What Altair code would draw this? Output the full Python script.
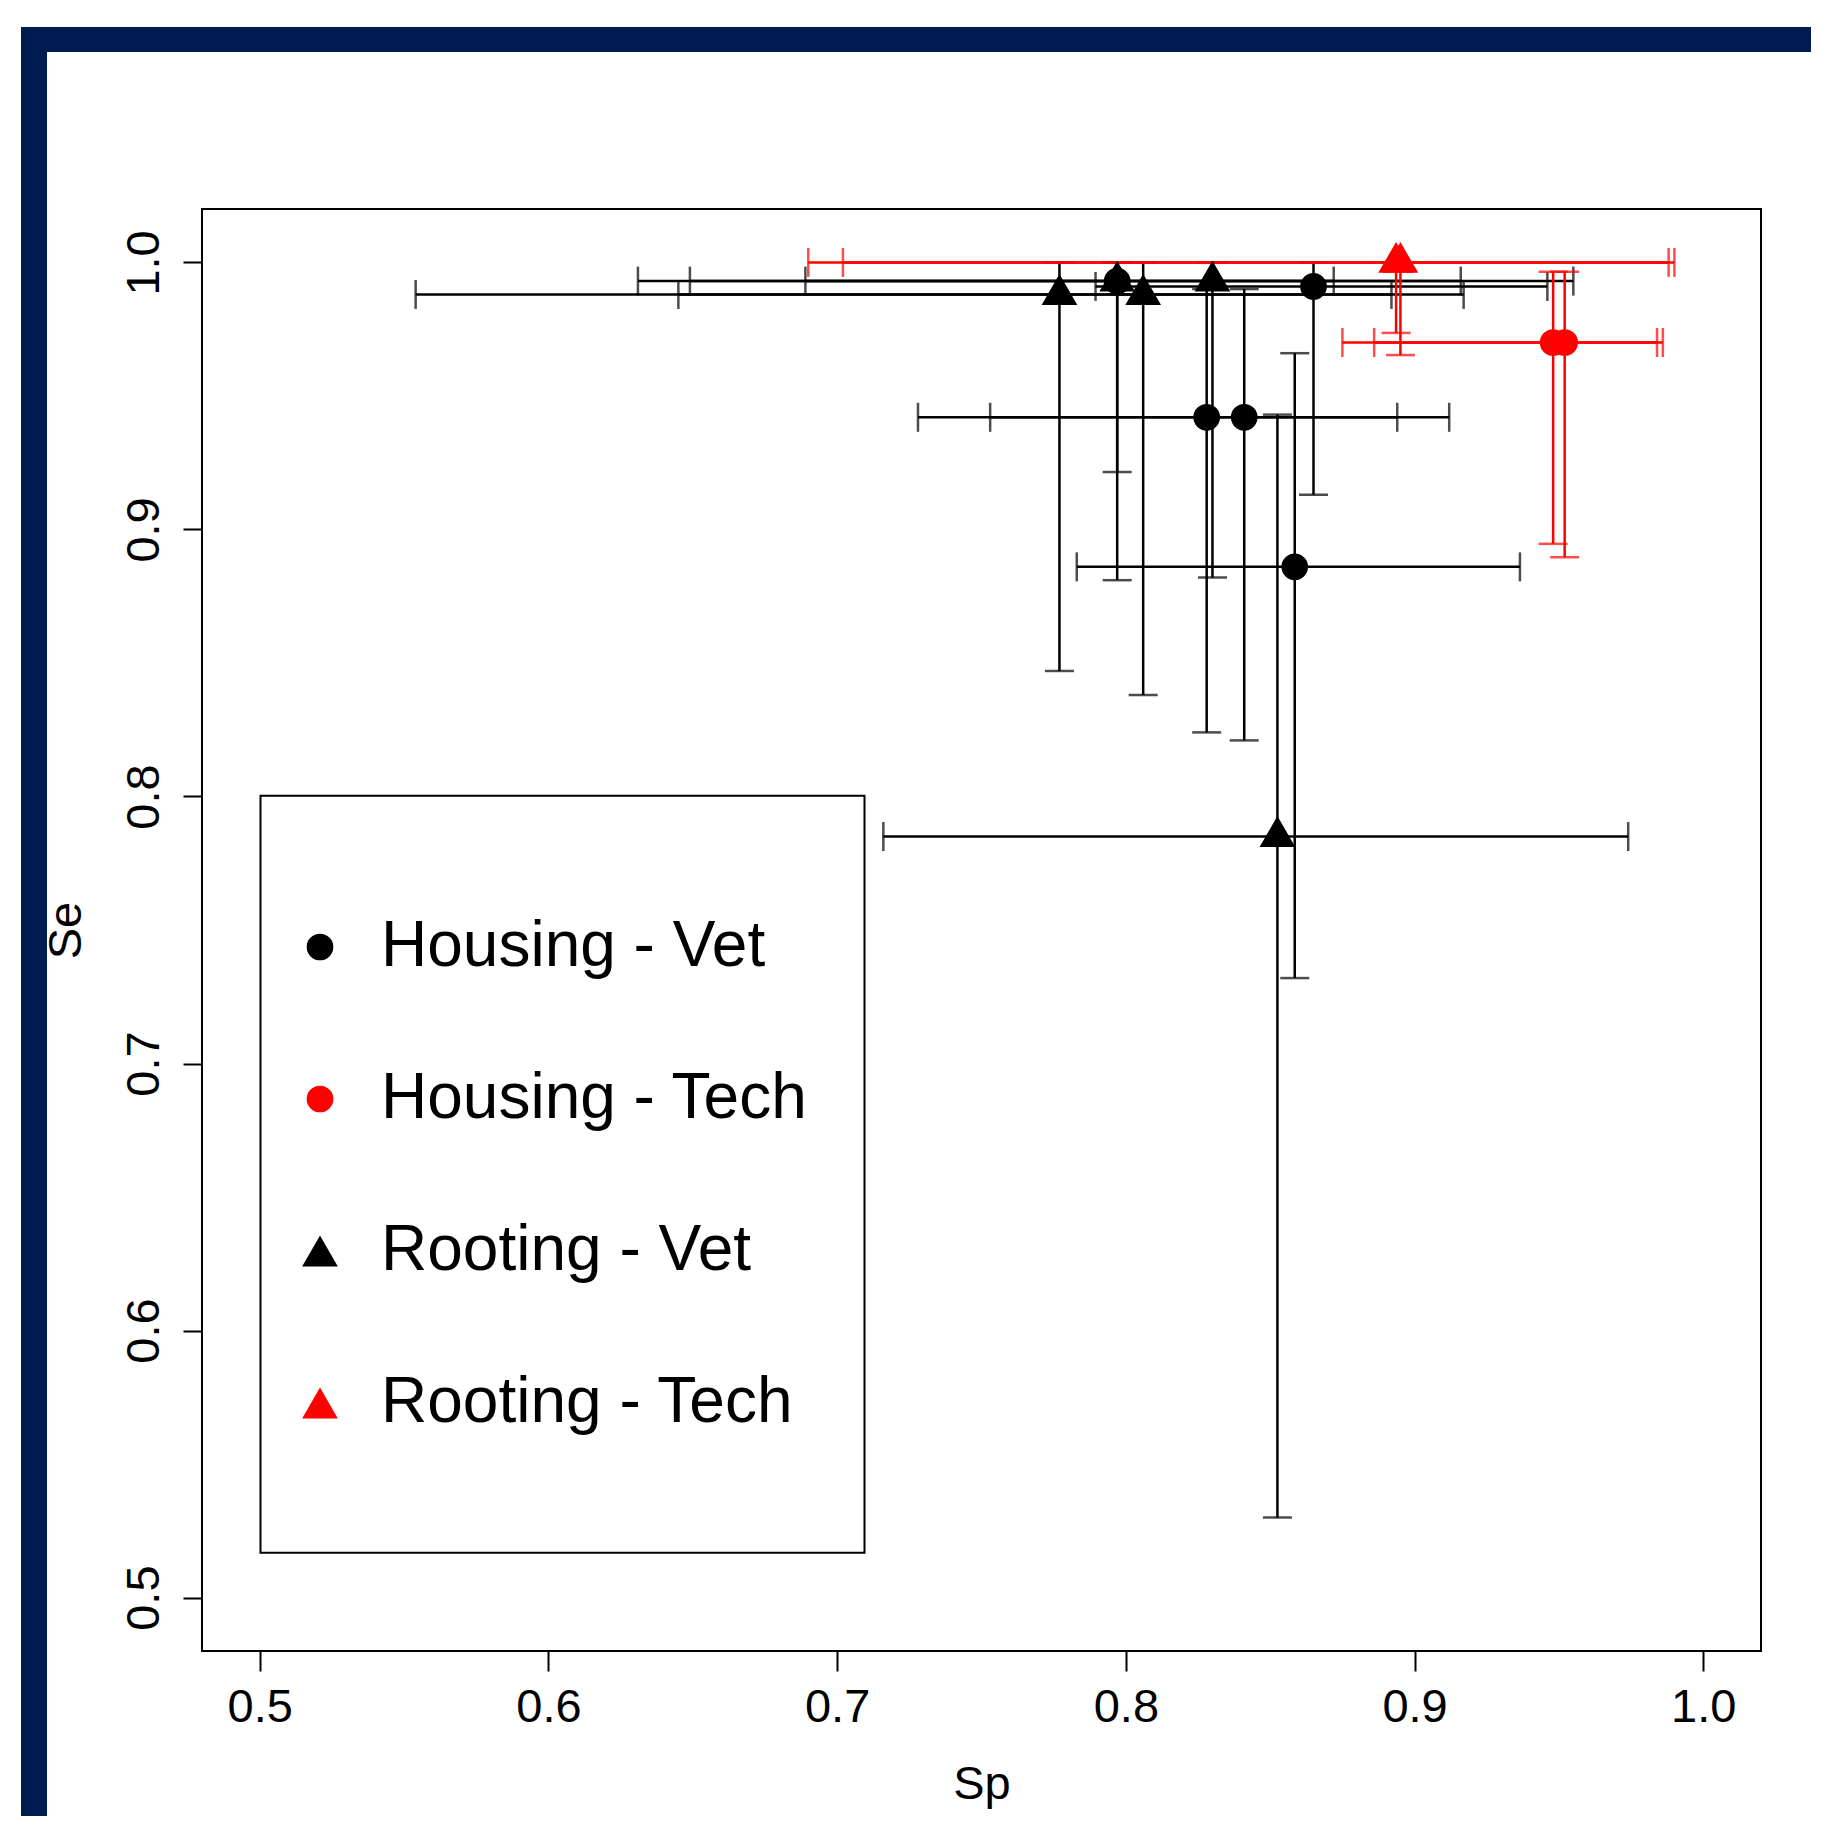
import altair as alt
import pandas as pd

# ---- data ----
groups = (["Housing - Vet"] * 5 + ["Rooting - Vet"] * 5 +
          ["Housing - Tech"] * 2 + ["Rooting - Tech"] * 2)
sp    = [0.797, 0.865, 0.828, 0.841, 0.8585, 0.777, 0.797, 0.806, 0.830, 0.8525, 0.948, 0.952, 0.8936, 0.8951]
sp_lo = [0.631, 0.7895, 0.728, 0.753, 0.783, 0.554, 0.649, 0.645, 0.689, 0.716, 0.875, 0.886, 0.690, 0.702]
sp_hi = [0.872, 0.946, 0.894, 0.912, 0.9365, 0.892, 0.916, 0.917, 0.955, 0.974, 0.984, 0.986, 0.988, 0.990]
se    = [0.993, 0.991, 0.942, 0.942, 0.886, 0.988, 0.993, 0.988, 0.993, 0.785, 0.970, 0.970, 1.0, 1.0]
se_lo = [0.881, 0.913, 0.824, 0.821, 0.732, 0.847, 0.9215, 0.838, 0.882, 0.530, 0.8946, 0.8896, 0.9736, 0.9653]
se_hi = [1.0, 1.0, 0.990, 0.990, 0.966, 1.0, 1.0, 1.0, 1.0, 0.943, 0.9965, 0.9965, 1.0, 1.0]

legend_order = ["Housing - Vet", "Housing - Tech", "Rooting - Vet", "Rooting - Tech"]
tick_values = [0.5, 0.6, 0.7, 0.8, 0.9, 1.0]

colour_of = {"Housing - Vet": "#000000", "Housing - Tech": "#FF0000",
             "Rooting - Vet": "#000000", "Rooting - Tech": "#FF0000"}

df = pd.DataFrame({"group": groups, "sp": sp, "sp_lo": sp_lo, "sp_hi": sp_hi,
                   "se": se, "se_lo": se_lo, "se_hi": se_hi})
df["col"] = df["group"].map(colour_of)
df["kind"] = ["c" if g.startswith("Housing") else "t" for g in df["group"]]

FONT = "Liberation Sans"
W, H = 1559, 1442
LW = 2.5
CAP = 29

xs = alt.Scale(domain=[0.48, 1.02], nice=False, zero=False)
ys = alt.Scale(domain=[0.48, 1.02], nice=False, zero=False)

x_axis = alt.Axis(values=tick_values, format=".1f", title="Sp", grid=False, domain=False,
                  tickSize=20, tickWidth=2, tickColor="black", labelPadding=13,
                  labelFont=FONT, labelFontSize=47, labelColor="black",
                  titleFont=FONT, titleFontSize=47, titleFontWeight="normal", titleColor="black",
                  titleY=147, titleBaseline="alphabetic")
y_axis = alt.Axis(values=tick_values, format=".1f", title="Se", grid=False, domain=False,
                  tickSize=19, tickWidth=2, tickColor="black", labelPadding=15,
                  labelAngle=270, labelAlign="center", labelBaseline="bottom",
                  labelFont=FONT, labelFontSize=47, labelColor="black",
                  titleFont=FONT, titleFontSize=47, titleFontWeight="normal", titleColor="black",
                  titleAngle=270, titleX=-122, titleY=H / 2, titleAlign="center",
                  titleBaseline="alphabetic")


def X(field):
    return alt.X(f"{field}:Q", scale=xs, axis=x_axis)


def Y(field):
    return alt.Y(f"{field}:Q", scale=ys, axis=y_axis)


colr = alt.Color("col:N", scale=None)


def bar_layers(sub):
    base = alt.Chart(sub)
    h = base.mark_rule(strokeWidth=LW).encode(x=X("sp_lo"), x2="sp_hi:Q", y=Y("se"), color=colr)
    v = base.mark_rule(strokeWidth=LW).encode(x=X("sp"), y=Y("se_lo"), y2="se_hi:Q", color=colr)
    c1 = base.mark_tick(orient="vertical", size=CAP, thickness=LW).encode(x=X("sp_lo"), y=Y("se"), color=colr)
    c2 = base.mark_tick(orient="vertical", size=CAP, thickness=LW).encode(x=X("sp_hi"), y=Y("se"), color=colr)
    c3 = base.mark_tick(orient="horizontal", size=CAP, thickness=LW).encode(x=X("sp"), y=Y("se_lo"), color=colr)
    c4 = base.mark_tick(orient="horizontal", size=CAP, thickness=LW).encode(x=X("sp"), y=Y("se_hi"), color=colr)
    return [h, v, c1, c2, c3, c4]


legend = alt.Legend(title=None, orient="none", legendX=86, legendY=706, padding=0,
                    rowPadding=88, labelOffset=29, labelFont=FONT, labelFontSize=64,
                    labelColor="black", labelLimit=2000, symbolStrokeWidth=0, symbolOpacity=1)

col_scale = alt.Scale(domain=legend_order, range=["#000000", "#FF0000", "#000000", "#FF0000"])
shp_scale = alt.Scale(domain=legend_order, range=["circle", "circle", "triangle-up", "triangle-up"])
siz_scale = alt.Scale(type="ordinal", domain=legend_order, range=[713, 713, 1274, 1274])


def point_layer(kind, yoff):
    return alt.Chart(df).transform_filter(f"datum.kind == '{kind}'").mark_point(
        filled=True, opacity=1, fillOpacity=1, strokeWidth=0, yOffset=yoff
    ).encode(
        x=X("sp"), y=Y("se"),
        color=alt.Color("group:N", scale=col_scale, legend=legend),
        shape=alt.Shape("group:N", scale=shp_scale, legend=legend),
        size=alt.Size("group:N", scale=siz_scale, legend=legend),
    )


one = alt.Data(values=[{}])
NAVY = "#001B50"
frame_top = alt.Chart(one).mark_rect(color=NAVY).encode(
    x=alt.value(-181), x2=alt.value(1700), y=alt.value(-182), y2=alt.value(-157))
frame_left = alt.Chart(one).mark_rect(color=NAVY).encode(
    x=alt.value(-181), x2=alt.value(-155), y=alt.value(-182), y2=alt.value(1700))
legend_box = alt.Chart(one).mark_rect(fill="white", stroke="black", strokeWidth=2).encode(
    x=alt.value(58.5), x2=alt.value(662.5), y=alt.value(586.7), y2=alt.value(1343.8))

black = df[df["col"] == "#000000"]
red = df[df["col"] == "#FF0000"]

layers = ([frame_top, frame_left, legend_box] + bar_layers(black) + bar_layers(red) +
          [point_layer("c", 0), point_layer("t", -5)])

chart = alt.layer(*layers).properties(
    width=W, height=H,
    padding={"left": 194, "top": 201, "right": 50, "bottom": 165},
    autosize=alt.AutoSizeParams(type="none"),
    background="white",
).configure_view(
    stroke="black", strokeWidth=2, fill="white"
).configure_legend(symbolOpacity=1)

chart.save("out.html", embed_options={"renderer": "svg", "actions": False})
